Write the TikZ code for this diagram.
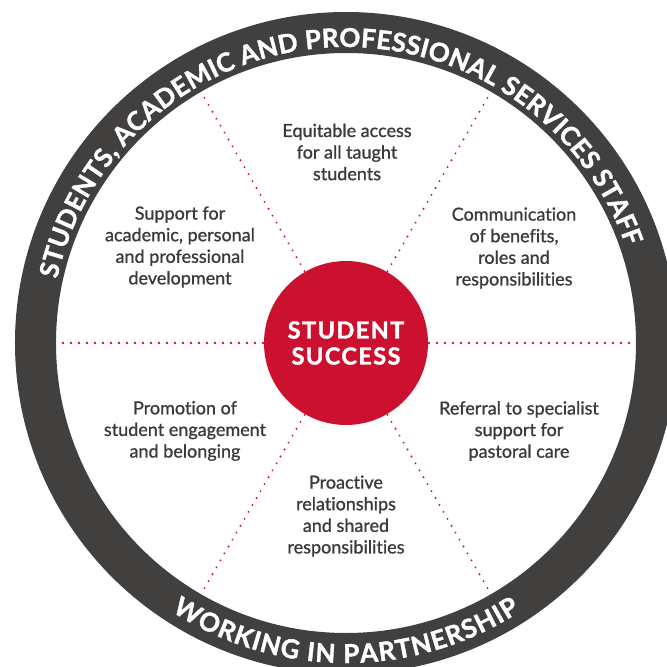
\documentclass[tikz,border=0pt]{standalone}
\usepackage{fontspec}
\setmainfont{Lato}[UprightFeatures={FakeBold=1}, Ligatures={NoCommon,NoRare}]
\newfontfamily\ringfont{Lato}[BoldFeatures={FakeBold=1.5}]
\newfontfamily\hubfont{Lato}[BoldFeatures={FakeBold=1.5, LetterSpace=6}]
\usetikzlibrary{decorations.text}

\definecolor{ringgrey}{RGB}{66,64,63}
\definecolor{hubred}{RGB}{204,17,48}
\definecolor{slicegrey}{RGB}{58,58,60}

\begin{document}
\begin{tikzpicture}[x=1pt, y=1pt,
  spoke/.style={hubred, line width=#1, line cap=round, dash pattern=on 0pt off 8pt},
  slicetext/.style={slicegrey, align=center, inner sep=0pt, font=\fontsize{18}{21.6}\selectfont},
  ringtext/.style={decorate, decoration={text along path, text align=fit to path,
      text={|\color{white}\ringfont\fontsize{26}{26}\selectfont\bfseries|#1}}}]

\clip (-346,-324) rectangle (321,343) ;

% outer ring
\draw [ringgrey, line width=41pt] (0,0) circle [radius=310.5pt] ;
\path [ringtext={STUDENTS, ACADEMIC AND PROFESSIONAL SERVICES STAFF}]
  (167.5:296pt) arc [start angle=167.5, end angle=19, radius=296pt] ;
\path [ringtext={WORKING IN PARTNERSHIP}]
  (237:320pt) arc [start angle=237, end angle=303, radius=320pt] ;

% hub and spokes
\node [circle, fill=hubred, minimum size=164pt, inner sep=0pt, text=white, align=center,
  font=\hubfont\fontsize{23.5}{26}\selectfont\bfseries] (hub) at (0,0) {STUDENT\\SUCCESS} ;
\foreach \a/\w in {0/2.8pt,60/2.1pt,120/2.1pt,180/2.8pt,240/2.1pt,300/2.1pt} {
  \coordinate (rim\a) at (\a:289pt) ;
  \draw [spoke=\w] (0,0) ++(\a:83pt) -- (rim\a) ;
}

% the six slices
\node [slicetext] (equitable) at (1,191) {Equitable access\\for all taught\\students} ;
\node [slicetext] (communication) at (168,95) {Communication\\of benefits,\\roles and\\responsibilities} ;
\node [slicetext] (referral) at (173,-88) {Referral to specialist\\support for\\pastoral care} ;
\node [slicetext] (proactive) at (0,-173) {Proactive\\relationships\\and shared\\responsibilities} ;
\node [slicetext] (promotion) at (-161,-88) {Promotion of\\student engagement\\and belonging} ;
\node [slicetext] (support) at (-166,96) {Support for\\academic, personal\\and professional\\development} ;
\end{tikzpicture}
\end{document}
